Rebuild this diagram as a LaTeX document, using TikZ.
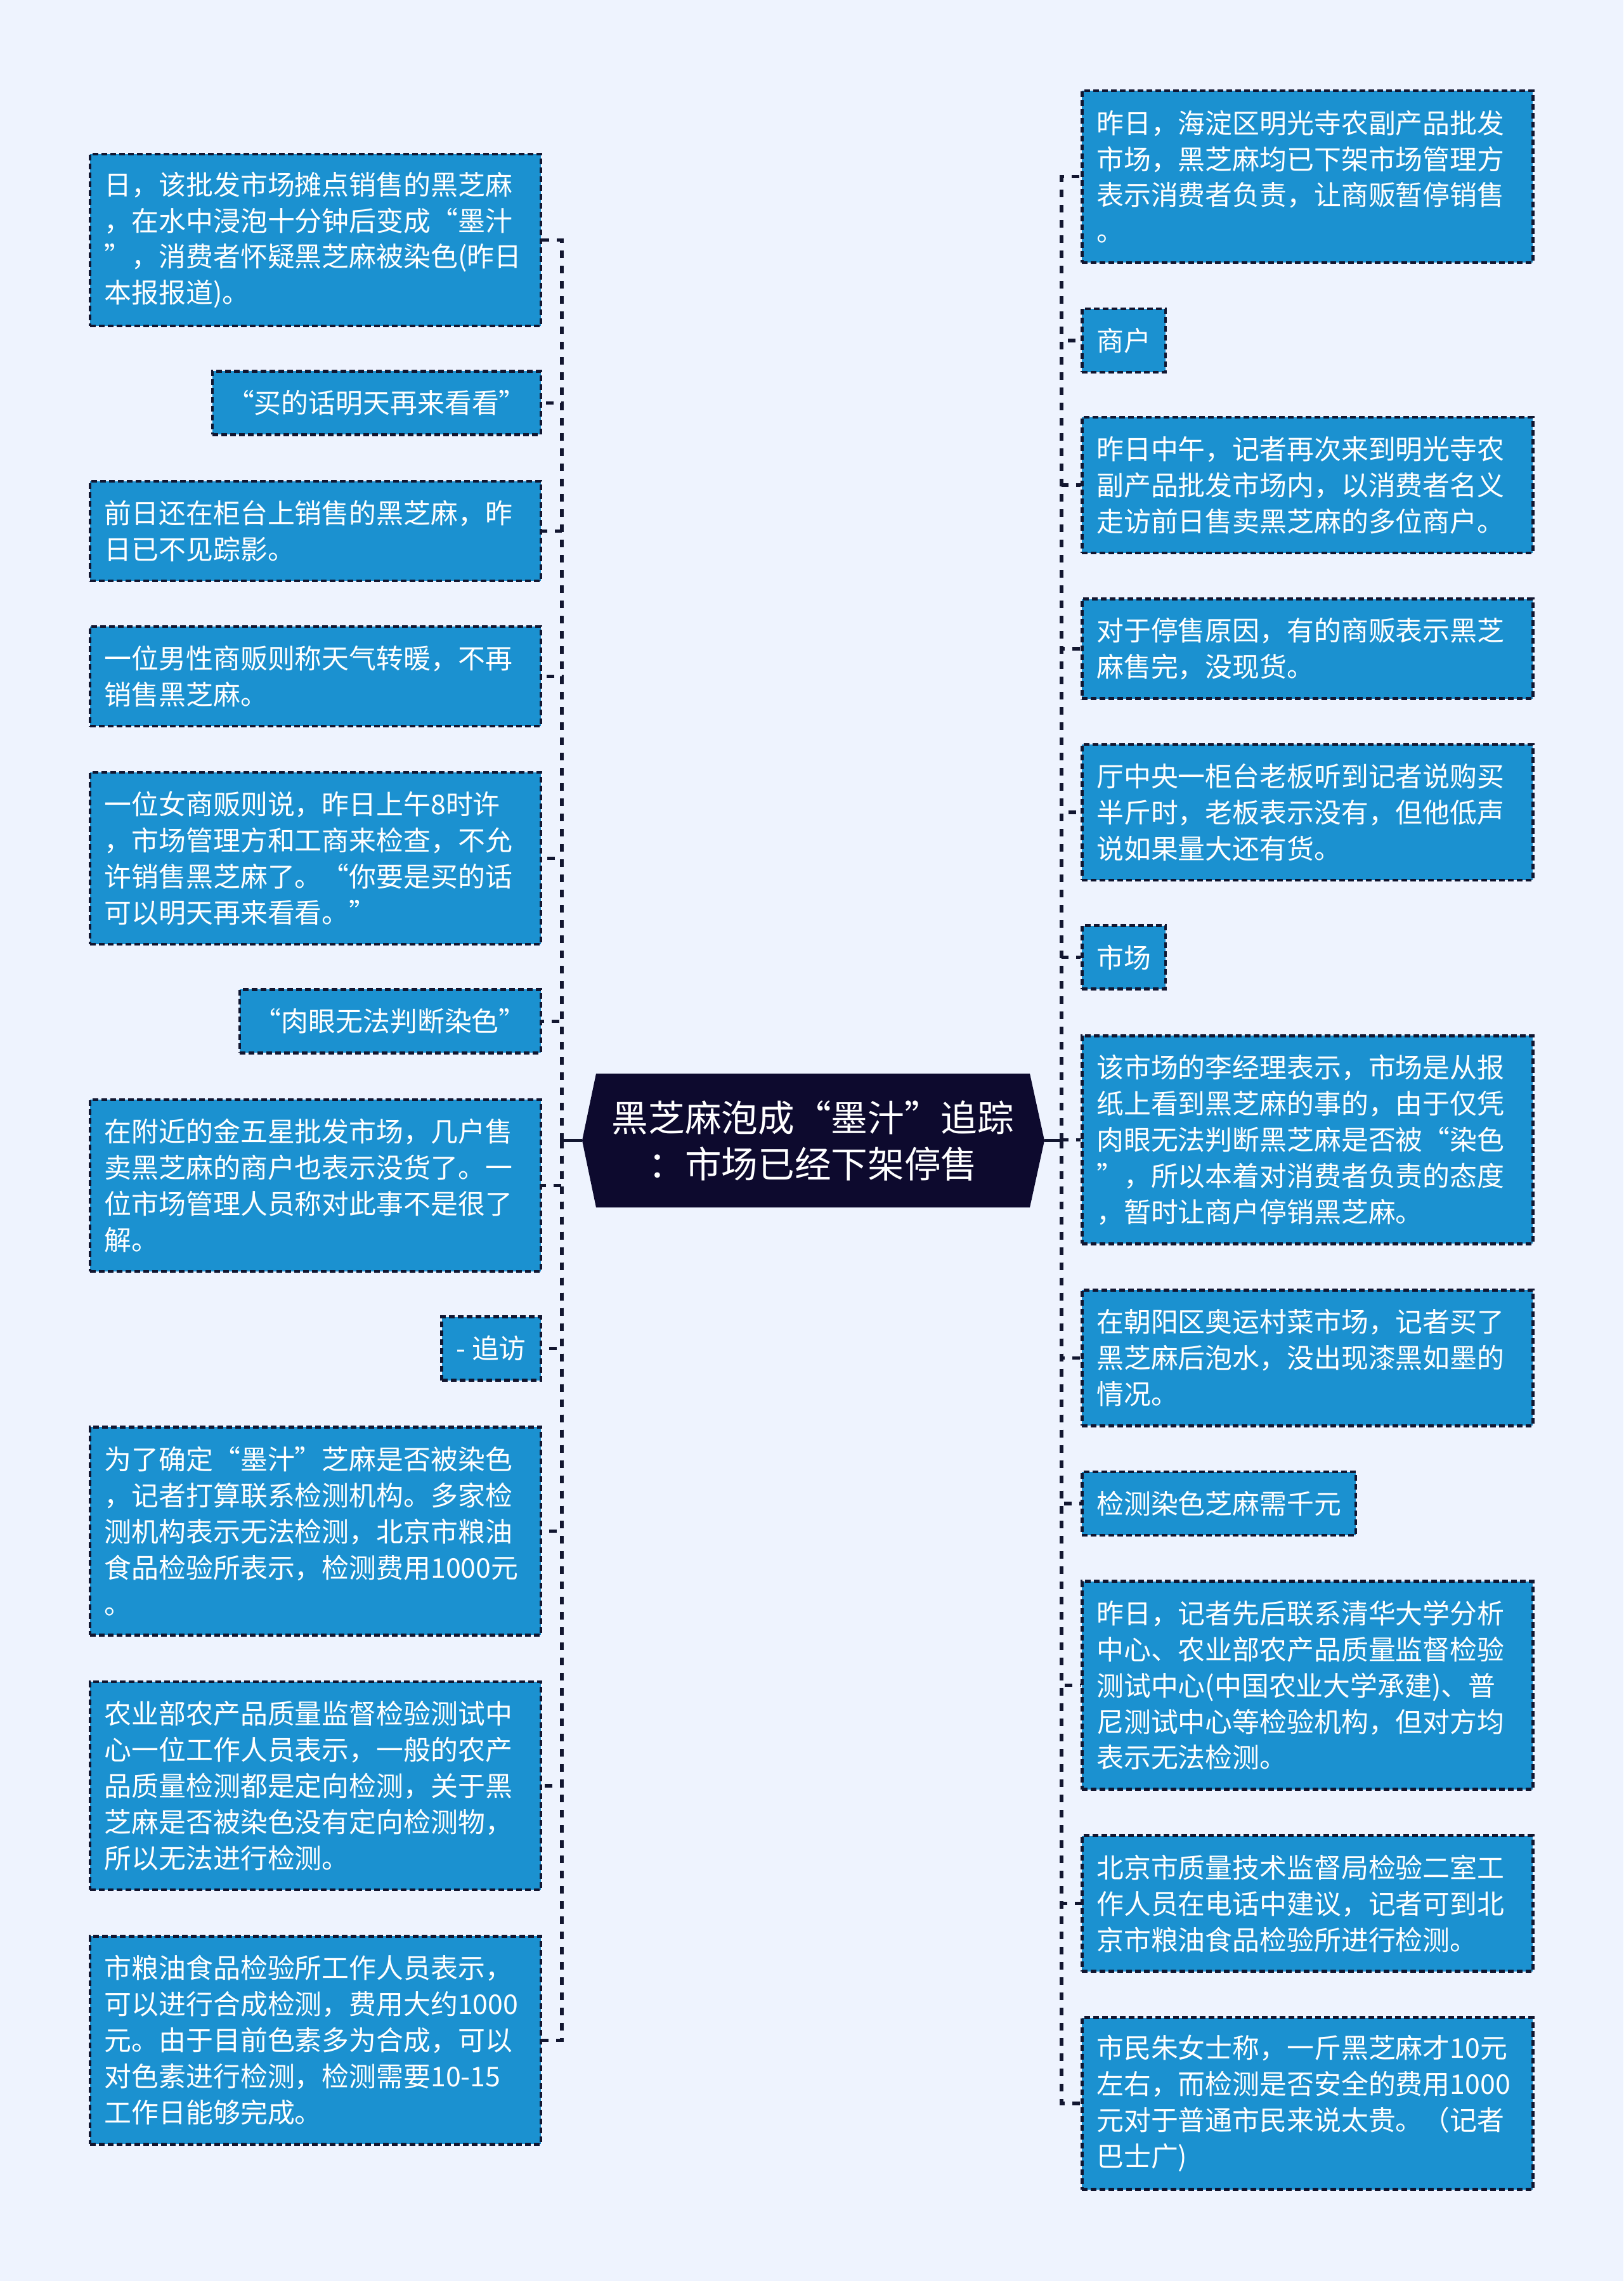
\documentclass[tikz,border=0pt]{standalone}
\usepackage{fontspec}
\newfontfamily\cjk{Noto Sans CJK SC}
\definecolor{paper}{RGB}{238,243,254}
\definecolor{leafblue}{RGB}{27,145,208}
\definecolor{inkline}{RGB}{18,22,48}
\definecolor{rootfill}{RGB}{13,10,46}
\begin{document}
\begin{tikzpicture}[x=1cm,y=-1cm,
  leaf/.style={draw=inkline,fill=leafblue,line width=0.045cm,dash pattern=on 0.09cm off 0.05cm,
    text=white,font=\cjk\fontsize{12.2pt}{16.2pt}\selectfont,align=left,
    inner xsep=0.23cm,inner ysep=0.1cm,minimum height=#1*0.57cm+0.43cm},
  para/.style={text width=6.65cm},
  link/.style={draw=inkline,line width=0.055cm,dash pattern=on 0.12cm off 0.12cm},
  stub/.style={draw=inkline,line width=0.055cm}]
  \fill[paper] (0,0) rectangle (25.6,35.97);
  \useasboundingbox (0,0) rectangle (25.6,35.97);
  % central topic
  \fill[rootfill] (9.40,16.93) -- (16.24,16.93) -- (16.47,17.985) -- (16.24,19.04)
    -- (9.40,19.04) -- (9.18,17.985) -- cycle;
  \node[text=white,align=center,font=\cjk\fontsize{16.4pt}{20.8pt}\selectfont] (root) at (12.82,17.985)
    {黑芝麻泡成“墨汁”追踪\\：市场已经下架停售};
  \coordinate (rl) at (9.18,17.985);
  \coordinate (rr) at (16.47,17.985);
  \coordinate (lj) at (8.86,17.985);
  \coordinate (rj) at (16.74,17.985);
  % left side
  \node[leaf=4,para,anchor=east] (l1) at (8.55,3.785) {日，该批发市场摊点销售的黑芝麻\\，在水中浸泡十分钟后变成“墨汁\\”，消费者怀疑黑芝麻被染色(昨日\\本报报道)。};
  \node[leaf=1,anchor=east] (l2) at (8.55,6.354) {“买的话明天再来看看”};
  \node[leaf=2,para,anchor=east] (l3) at (8.55,8.373) {前日还在柜台上销售的黑芝麻，昨\\日已不见踪影。};
  \node[leaf=2,para,anchor=east] (l4) at (8.55,10.667) {一位男性商贩则称天气转暖，不再\\销售黑芝麻。};
  \node[leaf=4,para,anchor=east] (l5) at (8.55,13.535) {一位女商贩则说，昨日上午8时许\\，市场管理方和工商来检查，不允\\许销售黑芝麻了。“你要是买的话\\可以明天再来看看。”};
  \node[leaf=1,anchor=east] (l6) at (8.55,16.104) {“肉眼无法判断染色”};
  \node[leaf=4,para,anchor=east] (l7) at (8.55,18.696) {在附近的金五星批发市场，几户售\\卖黑芝麻的商户也表示没货了。一\\位市场管理人员称对此事不是很了\\解。};
  \node[leaf=1,anchor=east] (l8) at (8.55,21.265) {- 追访};
  \node[leaf=5,para,anchor=east] (l9) at (8.55,24.144) {为了确定“墨汁”芝麻是否被染色\\，记者打算联系检测机构。多家检\\测机构表示无法检测，北京市粮油\\食品检验所表示，检测费用1000元\\。};
  \node[leaf=5,para,anchor=east] (l10) at (8.55,28.159) {农业部农产品质量监督检验测试中\\心一位工作人员表示，一般的农产\\品质量检测都是定向检测，关于黑\\芝麻是否被染色没有定向检测物，\\所以无法进行检测。};
  \node[leaf=5,para,anchor=east] (l11) at (8.55,32.173) {市粮油食品检验所工作人员表示，\\可以进行合成检测，费用大约1000\\元。由于目前色素多为合成，可以\\对色素进行检测，检测需要10-15\\工作日能够完成。};
  % right side
  \node[leaf=4,para,anchor=west] (r1) at (17.04,2.787) {昨日，海淀区明光寺农副产品批发\\市场，黑芝麻均已下架市场管理方\\表示消费者负责，让商贩暂停销售\\。};
  \node[leaf=1,anchor=west] (r2) at (17.04,5.368) {商户};
  \node[leaf=3,para,anchor=west] (r3) at (17.04,7.651) {昨日中午，记者再次来到明光寺农\\副产品批发市场内，以消费者名义\\走访前日售卖黑芝麻的多位商户。};
  \node[leaf=2,para,anchor=west] (r4) at (17.04,10.231) {对于停售原因，有的商贩表示黑芝\\麻售完，没现货。};
  \node[leaf=3,para,anchor=west] (r5) at (17.04,12.812) {厅中央一柜台老板听到记者说购买\\半斤时，老板表示没有，但他低声\\说如果量大还有货。};
  \node[leaf=1,anchor=west] (r6) at (17.04,15.095) {市场};
  \node[leaf=5,para,anchor=west] (r7) at (17.04,17.974) {该市场的李经理表示，市场是从报\\纸上看到黑芝麻的事的，由于仅凭\\肉眼无法判断黑芝麻是否被“染色\\”，所以本着对消费者负责的态度\\，暂时让商户停销黑芝麻。};
  \node[leaf=3,para,anchor=west] (r8) at (17.04,21.414) {在朝阳区奥运村菜市场，记者买了\\黑芝麻后泡水，没出现漆黑如墨的\\情况。};
  \node[leaf=1,anchor=west] (r9) at (17.04,23.709) {检测染色芝麻需千元};
  \node[leaf=5,para,anchor=west] (r10) at (17.04,26.576) {昨日，记者先后联系清华大学分析\\中心、农业部农产品质量监督检验\\测试中心(中国农业大学承建)、普\\尼测试中心等检验机构，但对方均\\表示无法检测。};
  \node[leaf=3,para,anchor=west] (r11) at (17.04,30.017) {北京市质量技术监督局检验二室工\\作人员在电话中建议，记者可到北\\京市粮油食品检验所进行检测。};
  \node[leaf=4,para,anchor=west] (r12) at (17.04,33.171) {市民朱女士称，一斤黑芝麻才10元\\左右，而检测是否安全的费用1000\\元对于普通市民来说太贵。（记者\\巴士广)};
  % connectors
  \draw[stub] (rl) -- (lj);
  \draw[stub] (rr) -- (rj);
  \foreach \n in {l1,l2,l3,l4,l5,l6,l7,l8,l9,l10,l11}
    \draw[link] (lj) |- (\n.east);
  \foreach \n in {r1,r2,r3,r4,r5,r6,r7,r8,r9,r10,r11,r12}
    \draw[link] (rj) |- (\n.west);
\end{tikzpicture}
\end{document}
